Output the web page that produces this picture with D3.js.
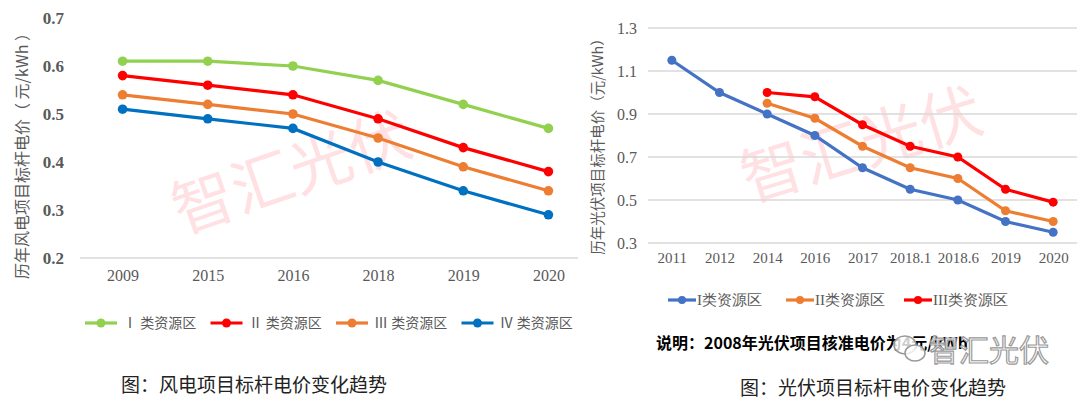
<!DOCTYPE html>
<html>
<head>
<meta charset="utf-8">
<script src="https://d3js.org/d3.v7.min.js"></script>
<style>
  body { margin: 0; background: #fff; }
  svg { display: block; }
</style>
</head>
<body>
<script>
// ---- wind power chart data ----
var windYears = ['2009', '2015', '2016', '2018', '2019', '2020'];
var windI   = [0.61, 0.61, 0.60, 0.57, 0.52, 0.47];
var windII  = [0.58, 0.56, 0.54, 0.49, 0.43, 0.38];
var windIII = [0.54, 0.52, 0.50, 0.45, 0.39, 0.34];
var windIV  = [0.51, 0.49, 0.47, 0.40, 0.34, 0.29];
var windTicks = [0.2, 0.3, 0.4, 0.5, 0.6, 0.7];
var windNames = ['Ⅰ 类资源区', 'Ⅱ 类资源区', 'Ⅲ 类资源区', 'Ⅳ 类资源区'];

// ---- PV chart data ----
var pvYears = ['2011', '2012', '2014', '2016', '2017', '2018.1', '2018.6', '2019', '2020'];
var pvI   = [1.15, 1.00, 0.90, 0.80, 0.65, 0.55, 0.50, 0.40, 0.35];
var pvII  = [null, null, 0.95, 0.88, 0.75, 0.65, 0.60, 0.45, 0.40];
var pvIII = [null, null, 1.00, 0.98, 0.85, 0.75, 0.70, 0.55, 0.49];
var pvTicks = [0.3, 0.5, 0.7, 0.9, 1.1, 1.3];
var pvNames = ['I类资源区', 'II类资源区', 'III类资源区'];

var W = 1080, H = 399;
var GRAY = '#595959';
var SANS = '"Noto Sans CJK SC", "Noto Sans", sans-serif';
var SERIF = '"Liberation Serif", "DejaVu Serif", serif';

var svg = d3.select('body').append('svg')
  .attr('width', W).attr('height', H);

// watermarks behind the lines
function watermark(cx, cy, angle) {
  svg.append('text')
    .attr('transform', 'translate(' + cx + ',' + cy + ') rotate(' + angle + ')')
    .attr('text-anchor', 'middle')
    .attr('dominant-baseline', 'central')
    .style('font-family', SANS)
    .style('font-size', '62px')
    .style('fill', 'rgba(255, 60, 80, 0.16)')
    .text('智汇光伏');
}
watermark(290, 168, -19);
watermark(860, 140, -17);

//////////////////////////////////////////////////////////////////
// Left chart: wind
//////////////////////////////////////////////////////////////////
var x1 = d3.scalePoint().domain(windYears).range([80, 591]).padding(0.5);
var y1 = d3.scaleLinear().domain([0.2, 0.7]).range([258, 18]);

var g1 = svg.append('g');

g1.append('line')
  .attr('x1', x1.range()[0]).attr('x2', 578)
  .attr('y1', y1(0.2)).attr('y2', y1(0.2))
  .style('stroke', '#d9d9d9').style('stroke-width', 1.5);

var yAx1 = g1.append('g')
  .attr('transform', 'translate(64,0)')
  .call(d3.axisLeft(y1).tickValues(windTicks).tickFormat(d3.format('.1f')).tickSize(0).tickPadding(0));
yAx1.select('.domain').remove();
yAx1.selectAll('text')
  .style('font-family', SERIF).style('font-weight', 'bold')
  .style('font-size', '17px').style('fill', GRAY);

var xAx1 = g1.append('g')
  .attr('transform', 'translate(0,' + y1(0.2) + ')')
  .call(d3.axisBottom(x1).tickSize(0).tickPadding(12));
xAx1.select('.domain').remove();
xAx1.selectAll('text')
  .style('font-family', SERIF).style('font-size', '16px').style('fill', GRAY);

g1.append('text')
  .attr('transform', 'translate(28,152) rotate(-90)')
  .attr('text-anchor', 'middle')
  .style('font-family', SANS).style('font-size', '16px').style('fill', GRAY)
  .text('历年风电项目标杆电价（ 元/kWh ）');

var windSeries = [
  { name: windNames[0], values: windI,   color: '#92D050' },
  { name: windNames[1], values: windII,  color: '#FF0000' },
  { name: windNames[2], values: windIII, color: '#ED7D31' },
  { name: windNames[3], values: windIV,  color: '#0070C0' }
];

var line1 = d3.line()
  .defined(function (d) { return d != null; })
  .x(function (d, i) { return x1(windYears[i]); })
  .y(function (d) { return y1(d); });

windSeries.forEach(function (s) {
  g1.append('path')
    .attr('d', line1(s.values))
    .style('fill', 'none').style('stroke', s.color).style('stroke-width', 3.2);
  g1.selectAll(null)
    .data(s.values)
    .enter()
    .append('circle')
    .attr('cx', function (d, i) { return x1(windYears[i]); })
    .attr('cy', function (d) { return y1(d); })
    .attr('r', 4.8)
    .style('fill', s.color);
});

// legend
var leg1 = g1.selectAll('.leg1')
  .data(windSeries)
  .enter()
  .append('g')
  .attr('transform', function (d, i) { return 'translate(' + (85 + i * 125.5) + ',323)'; });
leg1.append('line')
  .attr('x1', 0).attr('x2', 32)
  .style('stroke', function (d) { return d.color; }).style('stroke-width', 3.2);
leg1.append('circle')
  .attr('cx', 16).attr('r', 4.5)
  .style('fill', function (d) { return d.color; });
leg1.append('text')
  .attr('x', 38).attr('dy', '0.35em')
  .style('font-family', SANS).style('font-size', '14px').style('fill', GRAY)
  .text(function (d) { return d.name; });

svg.append('text')
  .attr('x', 254).attr('y', 383)
  .attr('text-anchor', 'middle').attr('dominant-baseline', 'central')
  .style('font-family', SANS).style('font-size', '19px').style('fill', '#222')
  .text('图：风电项目标杆电价变化趋势');

//////////////////////////////////////////////////////////////////
// Right chart: PV
//////////////////////////////////////////////////////////////////
var x2 = d3.scalePoint().domain(pvYears).range([648, 1077]).padding(0.5);
var y2 = d3.scaleLinear().domain([0.3, 1.3]).range([243, 28]);

var g2 = svg.append('g');

g2.selectAll('.grid')
  .data(pvTicks)
  .enter()
  .append('line')
  .attr('x1', x2.range()[0]).attr('x2', x2.range()[1])
  .attr('y1', function (d) { return y2(d); })
  .attr('y2', function (d) { return y2(d); })
  .style('stroke', '#d9d9d9').style('stroke-width', 1.5);

var yAx2 = g2.append('g')
  .attr('transform', 'translate(637,0)')
  .call(d3.axisLeft(y2).tickValues(pvTicks).tickFormat(d3.format('.1f')).tickSize(0).tickPadding(0));
yAx2.select('.domain').remove();
yAx2.selectAll('text')
  .style('font-family', SERIF).style('font-size', '16px').style('fill', GRAY);

var xAx2 = g2.append('g')
  .attr('transform', 'translate(0,' + y2(0.3) + ')')
  .call(d3.axisBottom(x2).tickSize(0).tickPadding(9));
xAx2.select('.domain').remove();
xAx2.selectAll('text')
  .style('font-family', SERIF).style('font-size', '15px').style('fill', GRAY);

g2.append('text')
  .attr('transform', 'translate(603,143) rotate(-90)')
  .attr('text-anchor', 'middle')
  .style('font-family', SANS).style('font-size', '14.5px').style('fill', GRAY)
  .text('历年光伏项目标杆电价（元/kWh）');

var pvSeries = [
  { name: pvNames[0], values: pvI,   color: '#4472C4' },
  { name: pvNames[1], values: pvII,  color: '#ED7D31' },
  { name: pvNames[2], values: pvIII, color: '#FF0000' }
];

var line2 = d3.line()
  .defined(function (d) { return d != null; })
  .x(function (d, i) { return x2(pvYears[i]); })
  .y(function (d) { return y2(d); });

pvSeries.forEach(function (s) {
  g2.append('path')
    .attr('d', line2(s.values))
    .style('fill', 'none').style('stroke', s.color).style('stroke-width', 3.2);
  g2.selectAll(null)
    .data(s.values.map(function (v, i) { return { v: v, k: pvYears[i] }; })
      .filter(function (d) { return d.v != null; }))
    .enter()
    .append('circle')
    .attr('cx', function (d) { return x2(d.k); })
    .attr('cy', function (d) { return y2(d.v); })
    .attr('r', 4.5)
    .style('fill', s.color);
});

var leg2 = g2.selectAll('.leg2')
  .data(pvSeries)
  .enter()
  .append('g')
  .attr('transform', function (d, i) { return 'translate(' + (668 + i * 118) + ',300)'; });
leg2.append('line')
  .attr('x1', 0).attr('x2', 28)
  .style('stroke', function (d) { return d.color; }).style('stroke-width', 3.2);
leg2.append('circle')
  .attr('cx', 14).attr('r', 4)
  .style('fill', function (d) { return d.color; });
leg2.append('text')
  .attr('x', 29).attr('dy', '0.35em')
  .style('font-family', SERIF).style('font-size', '15px').style('fill', GRAY)
  .text(function (d) { return d.name; });

svg.append('text')
  .attr('x', 656).attr('y', 342)
  .attr('dominant-baseline', 'central')
  .style('font-family', SANS).style('font-size', '16px').style('font-weight', 'bold')
  .style('fill', '#000')
  .text('说明：2008年光伏项目核准电价为4元/kWh');

// wechat watermark bottom right
var wm = svg.append('g').attr('transform', 'translate(905,348)');
wm.append('ellipse')
  .attr('cx', 0).attr('cy', -3).attr('rx', 11).attr('ry', 9)
  .style('fill', 'rgba(255,255,255,0.8)').style('stroke', '#9a9a9a').style('stroke-width', 1.5);
wm.append('ellipse')
  .attr('cx', 10).attr('cy', 5).attr('rx', 10).attr('ry', 8)
  .style('fill', 'rgba(255,255,255,0.8)').style('stroke', '#9a9a9a').style('stroke-width', 1.5);
wm.append('text')
  .attr('x', 24).attr('y', 0)
  .attr('dominant-baseline', 'central')
  .style('font-family', SANS).style('font-size', '30px')
  .style('fill', 'rgba(255,255,255,0.85)').style('stroke', '#9a9a9a').style('stroke-width', 1.2)
  .text('智汇光伏');

svg.append('text')
  .attr('x', 873).attr('y', 386)
  .attr('text-anchor', 'middle').attr('dominant-baseline', 'central')
  .style('font-family', SANS).style('font-size', '19px').style('fill', '#222')
  .text('图：光伏项目标杆电价变化趋势');
</script>
</body>
</html>
